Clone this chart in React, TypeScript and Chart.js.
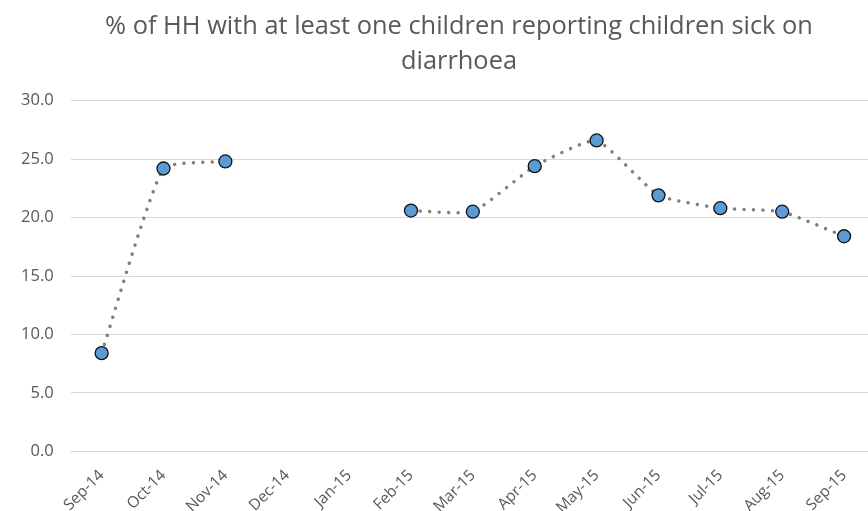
import React, { useEffect, useRef } from "react";
import { Chart, registerables } from "chart.js";

Chart.register(...registerables);

const months = [
  "Sep-14", "Oct-14", "Nov-14", "Dec-14", "Jan-15", "Feb-15", "Mar-15",
  "Apr-15", "May-15", "Jun-15", "Jul-15", "Aug-15", "Sep-15",
];

// Share of households (%) — no survey in Dec-14 and Jan-15
const sickShare: (number | null)[] = [
  8.4, 24.2, 24.8, null, null, 20.6, 20.5, 24.4, 26.6, 21.9, 20.8, 20.5, 18.4,
];

const yTicks = [0, 5, 10, 15, 20, 25, 30];

const titleLines = [
  "% of HH with at least one children reporting children sick on",
  "diarrhoea",
];

const textGrey = "#595959";
const font = "'Open Sans', 'DejaVu Sans', sans-serif";

// The plot runs past the right edge of the frame; keep the title centred on
// the whole (wider) chart rather than on the padded layout box.
const titleShift = {
  id: "titleShift",
  afterLayout(chart: any) {
    const t = chart.titleBlock;
    if (t) {
      t.left += 21.5;
      t.right += 21.5;
    }
  },
};

export default function App() {
  const canvasRef = useRef<HTMLCanvasElement | null>(null);

  useEffect(() => {
    if (!canvasRef.current) return;
    const chart = new Chart(canvasRef.current, {
      type: "line",
      data: {
        labels: months,
        datasets: [
          {
            data: sickShare,
            borderColor: "#7f7f7f",
            borderWidth: 3.5,
            borderCapStyle: "round",
            borderDash: [0.01, 9.4],
            tension: 0.15,
            spanGaps: false,
            pointRadius: 6.5,
            pointHoverRadius: 6.5,
            pointBackgroundColor: "#5b9bd5",
            pointBorderColor: "#111111",
            pointBorderWidth: 1.3,
          },
        ],
      },
      options: {
        animation: false,
        responsive: true,
        maintainAspectRatio: false,
        layout: { padding: { left: 0, right: 43, top: 0, bottom: 0 } },
        plugins: {
          legend: { display: false },
          tooltip: { enabled: false },
          title: {
            display: true,
            text: titleLines,
            color: textGrey,
            font: { family: font, size: 25.4, weight: "normal", lineHeight: 1.378 },
            padding: { top: 9.5, bottom: 21.2 },
          },
        },
        scales: {
          x: {
            offset: true,
            grid: { display: false, drawTicks: false },
            border: { display: true, color: "#d9d9d9", width: 1 },
            ticks: {
              color: textGrey,
              font: { family: font, size: 15.5 },
              minRotation: 45,
              maxRotation: 45,
              padding: 15,
              autoSkip: false,
            },
            afterFit: (scale: any) => {
              scale.height = 59.7;
            },
          },
          y: {
            min: 0,
            max: 30,
            grid: { color: "#d9d9d9", lineWidth: 1, drawTicks: false },
            border: { display: false },
            afterBuildTicks: (scale: any) => {
              scale.ticks = yTicks.map((v) => ({ value: v }));
            },
            ticks: {
              color: textGrey,
              font: { family: font, size: 16.5 },
              padding: 17,
              callback: (v: any) => Number(v).toFixed(1),
            },
            afterFit: (scale: any) => {
              scale.width = 70.7;
            },
          },
        },
      },
      plugins: [titleShift],
    });
    return () => chart.destroy();
  }, []);

  return (
    <div
      style={{
        position: "absolute",
        left: 0,
        top: 0,
        width: 868,
        height: 511,
        overflow: "hidden",
        background: "#ffffff",
      }}
    >
      <div style={{ position: "relative", width: 918, height: 511 }}>
        <canvas ref={canvasRef} />
      </div>
    </div>
  );
}
